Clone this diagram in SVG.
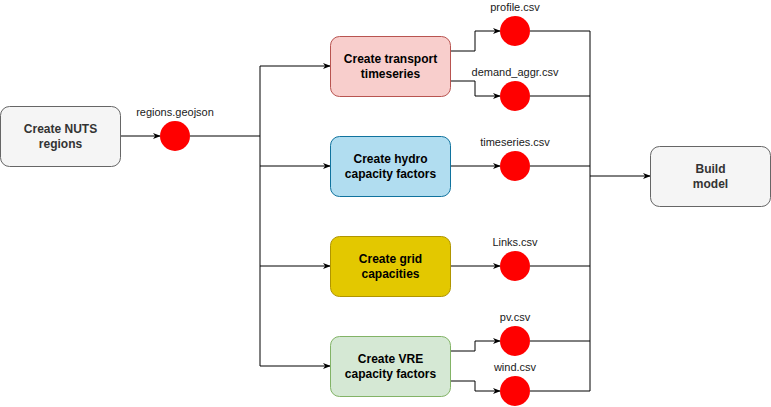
<svg xmlns="http://www.w3.org/2000/svg" width="771" height="407" viewBox="0 0 771 407">
<defs>
<marker id="arr" viewBox="0 0 10 10" refX="9" refY="5" markerWidth="8" markerHeight="8" markerUnits="userSpaceOnUse" orient="auto">
<path d="M0,1 L10,5 L0,9 L3,5 Z" fill="#000"/>
</marker>
<style>
.box{stroke-width:1}
.t{font-family:"Liberation Sans",Arial,sans-serif;font-size:12px;font-weight:bold;text-anchor:middle}
.lbl{font-family:"Liberation Sans",Arial,sans-serif;font-size:11px;text-anchor:middle;fill:#1a1a1a}
.dot{fill:#ff0000}
.c{fill:none;stroke:#000;stroke-width:1}
.ca{fill:none;stroke:#000;stroke-width:1;marker-end:url(#arr)}
</style>
</defs>
<g id="connectors">
<path class="ca" d="M120,136 H160"/>
<path class="c" d="M190,136 H260"/>
<path class="c" d="M260,66 V366"/>
<path class="ca" d="M260,66 H330"/>
<path class="ca" d="M260,166 H330"/>
<path class="ca" d="M260,266 H330"/>
<path class="ca" d="M260,366 H330"/>
<path class="ca" d="M450,51 H475 V31 H500"/>
<path class="ca" d="M450,81 H475 V96 H500"/>
<path class="ca" d="M450,166 H500"/>
<path class="ca" d="M450,266 H500"/>
<path class="ca" d="M450,351 H475 V341 H500"/>
<path class="ca" d="M450,381 H475 V391 H500"/>
<path class="c" d="M530,31 H590 V391 H530"/>
<path class="c" d="M530,96 H590"/>
<path class="c" d="M530,166 H590"/>
<path class="c" d="M530,266 H590"/>
<path class="c" d="M530,341 H590"/>
<path class="ca" d="M590,176 H650"/>
</g>
<g id="nuts">
<rect class="box" x="0.5" y="106.5" width="120" height="60" rx="9" fill="#f5f5f5" stroke="#666666"/>
<text class="t" fill="#333333" x="60.5" y="133">Create NUTS</text>
<text class="t" fill="#333333" x="60.5" y="148">regions</text>
</g>
<g id="regions">
<circle class="dot" cx="175" cy="136" r="15"/>
<text class="lbl" x="175" y="116">regions.geojson</text>
</g>
<g id="transport">
<rect class="box" x="330.5" y="36.5" width="120" height="60" rx="9" fill="#f8cecc" stroke="#b85450"/>
<text class="t" fill="#000" x="390.5" y="63">Create transport</text>
<text class="t" fill="#000" x="390.5" y="78">timeseries</text>
</g>
<g id="hydro">
<rect class="box" x="330.5" y="136.5" width="120" height="60" rx="9" fill="#b1ddf0" stroke="#10739e"/>
<text class="t" fill="#000" x="390.5" y="163">Create hydro</text>
<text class="t" fill="#000" x="390.5" y="178">capacity factors</text>
</g>
<g id="grid">
<rect class="box" x="330.5" y="236.5" width="120" height="60" rx="9" fill="#e3c800" stroke="#b09500"/>
<text class="t" fill="#000" x="390.5" y="263">Create grid</text>
<text class="t" fill="#000" x="390.5" y="278">capacities</text>
</g>
<g id="vre">
<rect class="box" x="330.5" y="336.5" width="120" height="60" rx="9" fill="#d5e8d4" stroke="#82b366"/>
<text class="t" fill="#000" x="390.5" y="363">Create VRE</text>
<text class="t" fill="#000" x="390.5" y="378">capacity factors</text>
</g>
<g id="profile">
<circle class="dot" cx="515" cy="31" r="15"/>
<text class="lbl" x="515" y="11">profile.csv</text>
</g>
<g id="demand">
<circle class="dot" cx="515" cy="96" r="15"/>
<text class="lbl" x="515" y="76">demand_aggr.csv</text>
</g>
<g id="timeseries">
<circle class="dot" cx="515" cy="166" r="15"/>
<text class="lbl" x="515" y="146">timeseries.csv</text>
</g>
<g id="links">
<circle class="dot" cx="515" cy="266" r="15"/>
<text class="lbl" x="515" y="246">Links.csv</text>
</g>
<g id="pv">
<circle class="dot" cx="515" cy="341" r="15"/>
<text class="lbl" x="515" y="321">pv.csv</text>
</g>
<g id="wind">
<circle class="dot" cx="515" cy="391" r="15"/>
<text class="lbl" x="515" y="371">wind.csv</text>
</g>
<g id="build">
<rect class="box" x="650.5" y="146.5" width="120" height="60" rx="9" fill="#f5f5f5" stroke="#666666"/>
<text class="t" fill="#333333" x="710.5" y="173">Build</text>
<text class="t" fill="#333333" x="710.5" y="188">model</text>
</g>
</svg>
